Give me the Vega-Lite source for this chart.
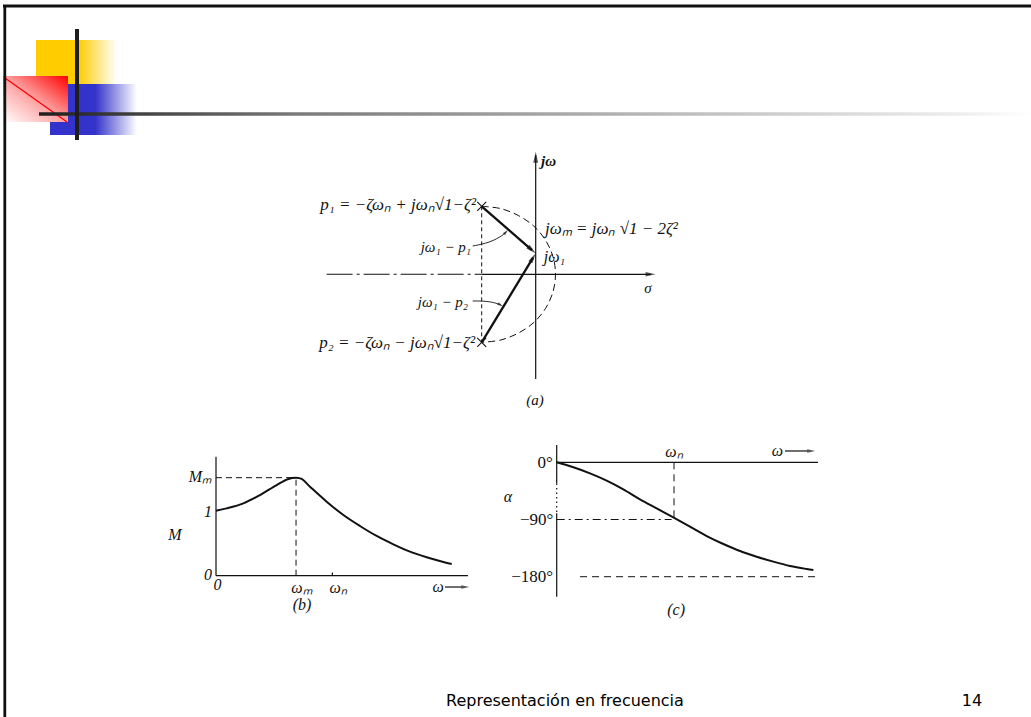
{
"$schema":"https://vega.github.io/schema/vega-lite/v6.json",
"width":1031,"height":717,"padding":0,"autosize":{"type":"none"},
"background":"#ffffff",
"config":{"view":{"stroke":null}},
"resolve":{"scale":{"x":"independent","y":"independent"}},
"layer":[
 {
  "encoding":{
   "x":{"field":"x","type":"quantitative","scale":{"domain":[0,1031],"nice":false,"zero":false},"axis":null},
   "y":{"field":"y","type":"quantitative","scale":{"domain":[0,717],"nice":false,"zero":false,"reverse":true},"axis":null}
  },
  "layer":[
   {"data":{"values":[{"x":36,"y":40,"x2":117,"y2":85}]},
    "mark":{"type":"rect","fill":{"gradient":"linear","x1":0,"y1":0,"x2":1,"y2":0,"stops":[{"offset":0,"color":"#ffcc00"},{"offset":0.52,"color":"#ffcc00"},{"offset":1,"color":"#ffffff"}]}},
    "encoding":{"x2":{"field":"x2"},"y2":{"field":"y2"}}},
   {"data":{"values":[{"x":50,"y":84,"x2":137,"y2":135}]},
    "mark":{"type":"rect","fill":{"gradient":"linear","x1":0,"y1":0,"x2":1,"y2":0,"stops":[{"offset":0,"color":"#3333cc"},{"offset":0.52,"color":"#3333cc"},{"offset":1,"color":"#ffffff"}]}},
    "encoding":{"x2":{"field":"x2"},"y2":{"field":"y2"}}},
   {"data":{"values":[{"x":3,"y":76,"x2":68,"y2":122}]},
    "mark":{"type":"rect","fill":{"gradient":"linear","x1":1,"y1":0,"x2":0,"y2":1,"stops":[{"offset":0,"color":"#ff0000"},{"offset":0.5,"color":"#ffa0a0"},{"offset":1,"color":"#ffffff"}]}},
    "encoding":{"x2":{"field":"x2"},"y2":{"field":"y2"}}},
   {"data":{"values":[{"x":5,"y":78,"x2":67,"y2":122}]},
    "mark":{"type":"rule","stroke":"#ff0000","strokeWidth":1.3},
    "encoding":{"x2":{"field":"x2"},"y2":{"field":"y2"}}},
   {"data":{"values":[{"x":39,"y":112.3,"x2":1031,"y2":115.7}]},
    "mark":{"type":"rect","fill":{"gradient":"linear","x1":0,"y1":0,"x2":1,"y2":0,"stops":[{"offset":0,"color":"#1e1e1e"},{"offset":0.26,"color":"#7a7a7a"},{"offset":0.93,"color":"#eeeeee"},{"offset":1,"color":"#ffffff"}]}},
    "encoding":{"x2":{"field":"x2"},"y2":{"field":"y2"}}},
   {"data":{"values":[{"x":77,"y":29,"x2":77,"y2":140}]},
    "mark":{"type":"rule","stroke":"#1e1e1e","strokeWidth":4},
    "encoding":{"x2":{"field":"x2"},"y2":{"field":"y2"}}},
   {"data":{"values":[{"x":3,"y":6,"x2":1031,"y2":6},{"x":4.8,"y":5,"x2":4.8,"y2":717}]},
    "mark":{"type":"rule","stroke":"#111111","strokeWidth":2.8},
    "encoding":{"x2":{"field":"x2"},"y2":{"field":"y2"}}},
   {"data":{"values":[{"x":446,"y":701,"t":"Representación en frecuencia"}]},
    "mark":{"type":"text","font":"DejaVu Sans","fontSize":16,"align":"left","baseline":"middle","color":"#000000"},
    "encoding":{"text":{"field":"t"}}},
   {"data":{"values":[{"x":972,"y":701,"t":"14"}]},
    "mark":{"type":"text","font":"DejaVu Sans","fontSize":16,"align":"center","baseline":"middle","color":"#000000"},
    "encoding":{"text":{"field":"t"}}}
  ]
 },
 {
  "encoding":{
   "x":{"field":"s","type":"quantitative","scale":{"domain":[-5.9522,5.5033],"nice":false,"zero":false},"axis":null},
   "y":{"field":"jw","type":"quantitative","scale":{"domain":[-5.2082,3.2271],"nice":false,"zero":false},"axis":null}
  },
  "layer":[
   {"data":{"values":[{"s":0,"jw":-1.232,"s2":0,"jw2":1.40},{"s":-0.6,"jw":0,"s2":1.28,"jw2":0}]},
    "mark":{"type":"rule","stroke":"#111111","strokeWidth":1.2},
    "encoding":{"x2":{"field":"s2"},"y2":{"field":"jw2"}}},
   {"data":{"values":[{"s":-2.323,"jw":0,"s2":-0.6,"jw2":0}]},
    "mark":{"type":"rule","stroke":"#111111","strokeWidth":1.1,"strokeDash":[26,4,3,4]},
    "encoding":{"x2":{"field":"s2"},"y2":{"field":"jw2"}}},
   {"data":{"values":[{"s":-0.6,"jw":0.8,"s2":-0.6,"jw2":-0.8}]},
    "mark":{"type":"rule","stroke":"#111111","strokeWidth":1,"strokeDash":[4,3]},
    "encoding":{"x2":{"field":"s2"},"y2":{"field":"jw2"}}},
   {"data":{"values":[{"s":-0.6,"jw":0.8,"s2":-0.042,"jw2":0.285},{"s":-0.6,"jw":-0.8,"s2":-0.029,"jw2":0.196}]},
    "mark":{"type":"rule","stroke":"#111111","strokeWidth":2.3},
    "encoding":{"x2":{"field":"s2"},"y2":{"field":"jw2"}}},
   {"data":{"values":[
     {"i":0,"s":-0.6,"jw":0.8},{"i":1,"s":-0.388,"jw":0.773},{"i":2,"s":-0.19,"jw":0.69},{"i":3,"s":-0.02,"jw":0.566},
     {"i":4,"s":0.11,"jw":0.4},{"i":5,"s":0.192,"jw":0.207},{"i":6,"s":0.22,"jw":0},{"i":7,"s":0.192,"jw":-0.207},
     {"i":8,"s":0.11,"jw":-0.4},{"i":9,"s":-0.02,"jw":-0.566},{"i":10,"s":-0.19,"jw":-0.69},{"i":11,"s":-0.388,"jw":-0.773},{"i":12,"s":-0.6,"jw":-0.8}]},
    "mark":{"type":"line","stroke":"#111111","strokeWidth":1,"strokeDash":[7,4],"interpolate":"cardinal"},
    "encoding":{"order":{"field":"i","type":"quantitative"}}},
   {"data":{"values":[
     {"k":"u","i":0,"s":-0.7,"jw":0.333},{"k":"u","i":1,"s":-0.508,"jw":0.372},{"k":"u","i":2,"s":-0.36,"jw":0.462},{"k":"u","i":3,"s":-0.33,"jw":0.498},
     {"k":"l","i":0,"s":-0.7,"jw":-0.314},{"k":"l","i":1,"s":-0.544,"jw":-0.314},{"k":"l","i":2,"s":-0.433,"jw":-0.341},{"k":"l","i":3,"s":-0.391,"jw":-0.361}]},
    "mark":{"type":"line","stroke":"#111111","strokeWidth":0.9,"interpolate":"basis"},
    "encoding":{"detail":{"field":"k"},"order":{"field":"i","type":"quantitative"}}},
   {"data":{"values":[{"s":0,"jw":1.378}]},
    "mark":{"type":"point","shape":"M0,-1L0.45,1L-0.45,1Z","filled":true,"color":"#111111","size":121,"angle":0}},
   {"data":{"values":[{"s":1.276,"jw":0}]},
    "mark":{"type":"point","shape":"M0,-1L0.45,1L-0.45,1Z","filled":true,"color":"#111111","size":100,"angle":90}},
   {"data":{"values":[{"s":-0.042,"jw":0.285}]},
    "mark":{"type":"point","shape":"M0,-1L0.45,1L-0.45,1Z","filled":true,"color":"#111111","size":110,"angle":131}},
   {"data":{"values":[{"s":-0.029,"jw":0.196}]},
    "mark":{"type":"point","shape":"M0,-1L0.45,1L-0.45,1Z","filled":true,"color":"#111111","size":110,"angle":31}},
   {"data":{"values":[{"s":-0.33,"jw":0.498}]},
    "mark":{"type":"point","shape":"M0,-1L0.5,1L-0.5,1Z","filled":true,"color":"#111111","size":36,"angle":43}},
   {"data":{"values":[{"s":-0.391,"jw":-0.361}]},
    "mark":{"type":"point","shape":"M0,-1L0.5,1L-0.5,1Z","filled":true,"color":"#111111","size":36,"angle":121}},
   {"data":{"values":[{"s":-0.6,"jw":0.8},{"s":-0.6,"jw":-0.8}]},
    "mark":{"type":"point","shape":"M-1,-1L1,1M-1,1L1,-1","filled":false,"stroke":"#111111","strokeWidth":1.1,"size":80,"opacity":1}},
   {"data":{"values":[
     {"s":-0.663,"jw":0.815,"t":"p₁ = −ζωₙ + jωₙ√1−ζ²"},
     {"s":-0.674,"jw":-0.808,"t":"p₂ = −ζωₙ − jωₙ√1−ζ²"}]},
    "mark":{"type":"text","font":"Liberation Serif","fontStyle":"italic","fontSize":17,"align":"right","baseline":"middle","color":"#111111"},
    "encoding":{"text":{"field":"t"}}},
   {"data":{"values":[
     {"s":-0.719,"jw":0.321,"t":"jω₁ − p₁"},
     {"s":-0.752,"jw":-0.326,"t":"jω₁ − p₂"}]},
    "mark":{"type":"text","font":"Liberation Serif","fontStyle":"italic","fontSize":15,"align":"right","baseline":"middle","color":"#111111"},
    "encoding":{"text":{"field":"t"}}},
   {"data":{"values":[
     {"s":0.103,"jw":0.533,"t":"jωₘ  = jωₙ √1 − 2ζ²"}]},
    "mark":{"type":"text","font":"Liberation Serif","fontStyle":"italic","fontSize":17,"align":"left","baseline":"middle","color":"#111111"},
    "encoding":{"text":{"field":"t"}}},
   {"data":{"values":[
     {"s":0.09,"jw":0.2,"t":"jω₁"}]},
    "mark":{"type":"text","font":"Liberation Serif","fontStyle":"italic","fontSize":16,"align":"left","baseline":"middle","color":"#111111"},
    "encoding":{"text":{"field":"t"}}},
   {"data":{"values":[{"s":0.059,"jw":1.333,"t":"jω"}]},
    "mark":{"type":"text","font":"Liberation Serif","fontStyle":"italic","fontWeight":"bold","fontSize":15,"align":"left","baseline":"middle","color":"#111111"},
    "encoding":{"text":{"field":"t"}}},
   {"data":{"values":[{"s":1.248,"jw":-0.161,"t":"σ"},{"s":-0.008,"jw":-1.478,"t":"(a)"}]},
    "mark":{"type":"text","font":"Liberation Serif","fontStyle":"italic","fontSize":15,"align":"center","baseline":"middle","color":"#111111"},
    "encoding":{"text":{"field":"t"}}}
  ]
 },
 {
  "encoding":{
   "x":{"field":"w","type":"quantitative","scale":{"domain":[-1.8621,7.0259],"nice":false,"zero":false},"axis":null},
   "y":{"field":"M","type":"quantitative","scale":{"domain":[-2.1738,8.8569],"nice":false,"zero":false},"axis":null}
  },
  "layer":[
   {"data":{"values":[{"w":0,"M":0,"w2":0,"M2":1.83},{"w":0,"M":0,"w2":2.172,"M2":0},{"w":1.974,"M":-0.174,"w2":2.12,"M2":-0.174},{"w":1.003,"M":0,"w2":1.003,"M2":0.05}]},
    "mark":{"type":"rule","stroke":"#111111","strokeWidth":1.2},
    "encoding":{"x2":{"field":"w2"},"y2":{"field":"M2"}}},
   {"data":{"values":[{"w":0,"M":1.508,"w2":0.69,"M2":1.508},{"w":0.69,"M":0,"w2":0.69,"M2":1.508}]},
    "mark":{"type":"rule","stroke":"#111111","strokeWidth":1,"strokeDash":[6,4]},
    "encoding":{"x2":{"field":"w2"},"y2":{"field":"M2"}}},
   {"data":{"values":[
     {"w":0,"M":1.0},{"w":0.092,"M":1.036},{"w":0.236,"M":1.113},{"w":0.379,"M":1.241},{"w":0.523,"M":1.395},{"w":0.624,"M":1.488},
     {"w":0.69,"M":1.508},{"w":0.739,"M":1.488},{"w":0.81,"M":1.37},{"w":0.954,"M":1.139},{"w":1.098,"M":0.934},{"w":1.241,"M":0.765},
     {"w":1.385,"M":0.611},{"w":1.529,"M":0.483},{"w":1.672,"M":0.37},{"w":1.816,"M":0.283},{"w":1.96,"M":0.211},{"w":2.032,"M":0.18}]},
    "mark":{"type":"line","stroke":"#111111","strokeWidth":2,"interpolate":"catmull-rom"}},
   {"data":{"values":[{"w":2.15,"M":-0.174}]},
    "mark":{"type":"point","shape":"M0,-1L0.45,1L-0.45,1Z","filled":true,"color":"#111111","size":64,"angle":90}},
   {"data":{"values":[{"w":-0.034,"M":1.518,"t":"Mₘ"},{"w":-0.034,"M":0.98,"t":"1"},{"w":-0.034,"M":0.01,"t":"0"}]},
    "mark":{"type":"text","font":"Liberation Serif","fontStyle":"italic","fontSize":16,"align":"right","baseline":"middle","color":"#111111"},
    "encoding":{"text":{"field":"t"}}},
   {"data":{"values":[{"w":-0.354,"M":0.626,"t":"M"},{"w":0.013,"M":-0.143,"t":"0"},{"w":0.741,"M":-0.19,"t":"ωₘ"},{"w":1.052,"M":-0.19,"t":"ωₙ"},{"w":1.914,"M":-0.174,"t":"ω"},{"w":0.741,"M":-0.451,"t":"(b)"}]},
    "mark":{"type":"text","font":"Liberation Serif","fontStyle":"italic","fontSize":16,"align":"center","baseline":"middle","color":"#111111"},
    "encoding":{"text":{"field":"t"}}}
  ]
 },
 {
  "encoding":{
   "x":{"field":"w","type":"quantitative","scale":{"domain":[-4.746,4.0435],"nice":false,"zero":false},"axis":null},
   "y":{"field":"a","type":"quantitative","scale":{"domain":[-400.72,727.34],"nice":false,"zero":false},"axis":null}
  },
  "layer":[
   {"data":{"values":[{"w":0,"a":27.2,"w2":0,"a2":-33.2},{"w":0,"a":-80,"w2":0,"a2":-211.5},{"w":0,"a":0,"w2":2.228,"a2":0},{"w":1.946,"a":17.8,"w2":2.14,"a2":17.8}]},
    "mark":{"type":"rule","stroke":"#111111","strokeWidth":1.2},
    "encoding":{"x2":{"field":"w2"},"y2":{"field":"a2"}}},
   {"data":{"values":[{"w":0,"a":-33.2,"w2":0,"a2":-80}]},
    "mark":{"type":"rule","stroke":"#111111","strokeWidth":1.2,"strokeDash":[1.5,3]},
    "encoding":{"x2":{"field":"w2"},"y2":{"field":"a2"}}},
   {"data":{"values":[{"w":0,"a":-90,"w2":0.98,"a2":-90}]},
    "mark":{"type":"rule","stroke":"#111111","strokeWidth":1,"strokeDash":[8,4,2,4]},
    "encoding":{"x2":{"field":"w2"},"y2":{"field":"a2"}}},
   {"data":{"values":[{"w":0.199,"a":-180,"w2":2.217,"a2":-180},{"w":1.0,"a":0,"w2":1.0,"a2":-90}]},
    "mark":{"type":"rule","stroke":"#111111","strokeWidth":1,"strokeDash":[7,5]},
    "encoding":{"x2":{"field":"w2"},"y2":{"field":"a2"}}},
   {"data":{"values":[
     {"w":0,"a":0},{"w":0.142,"a":-7.9},{"w":0.284,"a":-17.4},{"w":0.426,"a":-28.8},{"w":0.568,"a":-42.5},{"w":0.71,"a":-58.2},
     {"w":0.852,"a":-72.4},{"w":0.994,"a":-86.6},{"w":1.136,"a":-101.3},{"w":1.279,"a":-116},{"w":1.421,"a":-128.5},{"w":1.563,"a":-139.6},
     {"w":1.705,"a":-148.5},{"w":1.847,"a":-156.3},{"w":1.989,"a":-163.2},{"w":2.131,"a":-167.9},{"w":2.188,"a":-169.4}]},
    "mark":{"type":"line","stroke":"#111111","strokeWidth":2,"interpolate":"catmull-rom"}},
   {"data":{"values":[{"w":2.17,"a":17.8}]},
    "mark":{"type":"point","shape":"M0,-1L0.45,1L-0.45,1Z","filled":true,"color":"#111111","size":64,"angle":90}},
   {"data":{"values":[{"w":-0.034,"a":-1.6,"t":"0°"},{"w":-0.029,"a":-90,"t":"−90°"},{"w":-0.031,"a":-180,"t":"−180°"}]},
    "mark":{"type":"text","font":"Liberation Serif","fontSize":17,"align":"right","baseline":"middle","color":"#111111"},
    "encoding":{"text":{"field":"t"}}},
   {"data":{"values":[{"w":-0.415,"a":-54,"t":"α"},{"w":1.0,"a":16.7,"t":"ωₙ"},{"w":1.882,"a":17.8,"t":"ω"},{"w":1.018,"a":-232,"t":"(c)"}]},
    "mark":{"type":"text","font":"Liberation Serif","fontStyle":"italic","fontSize":16,"align":"center","baseline":"middle","color":"#111111"},
    "encoding":{"text":{"field":"t"}}}
  ]
 }
]
}
